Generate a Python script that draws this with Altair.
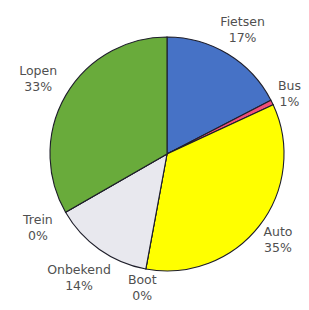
import altair as alt
import pandas as pd

categories = ["Fietsen", "Bus", "Auto", "Boot", "Onbekend", "Trein", "Lopen"]
values = [17.4, 0.7, 34.8, 0.0, 13.8, 0.0, 33.3]
colors = ["#4672C6", "#F0507A", "#FFFF00", "#20204A", "#E8E8EE", "#1A2A1A", "#69AB3B"]

df = pd.DataFrame({"cat": categories, "v": values, "order": list(range(len(categories)))})

CX, CY, R = 159, 146, 117
LH = 16

base = alt.Chart(df)

pie = base.mark_arc(outerRadius=R, stroke="#1e1e2a", strokeWidth=1.1).encode(
    theta=alt.Theta("v:Q", stack=True),
    order=alt.Order("order:Q"),
    color=alt.Color("cat:N", scale=alt.Scale(domain=categories, range=colors), legend=None),
    x=alt.value(CX),
    y=alt.value(CY),
)

labels = (
    base.transform_joinaggregate(total="sum(v)")
    .transform_window(cum="sum(v)", sort=[alt.SortField("order")], frame=[None, 0])
    .transform_calculate(
        a="2*PI*(datum.cum - datum.v/2)/datum.total",
        pct="format(datum.v/datum.total, '.0%')",
    )
    .transform_calculate(
        label="datum.cat + '\\n' + datum.pct",
        w="max(length(datum.cat), length(datum.pct))*8",
    )
    .transform_calculate(
        r=f"{R} + 3 + 6*max(0, -sin(datum.a)) + datum.w/2*abs(sin(datum.a)) + 12.7*abs(cos(datum.a))"
    )
    .transform_calculate(
        lx=f"{CX} + datum.r*sin(datum.a)",
        ly=f"{CY} - datum.r*cos(datum.a) - {LH / 2}",
    )
    .mark_text(font="DejaVu Sans", fontSize=12.5, color="#505050", lineBreak="\n",
               lineHeight=LH, align="center", baseline="middle")
    .encode(
        x=alt.X("lx:Q", scale=None, axis=None),
        y=alt.Y("ly:Q", scale=None, axis=None),
        text="label:N",
    )
)

chart = (
    alt.layer(pie, labels)
    .properties(width=293, height=294, padding=0,
                autosize=alt.AutoSizeParams(type="none"))
    .configure_view(stroke=None)
)

chart.save("out.html", embed_options={"renderer": "svg", "actions": False})
